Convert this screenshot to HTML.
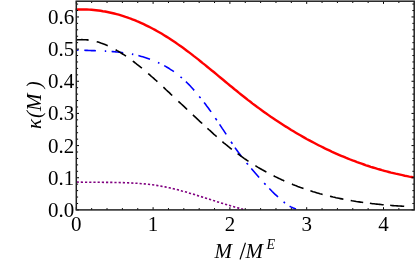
<!DOCTYPE html>
<html><head><meta charset="utf-8"><style>
html,body{margin:0;padding:0;background:#fff;}
svg{display:block;will-change:transform;}
text{font-family:"Liberation Serif",serif;font-size:21px;fill:#000}
</style></head><body>
<svg width="415" height="262" viewBox="0 0 415 262">
<rect width="415" height="262" fill="#fff"/>
<path d="M76.6,182.0 L78.7,182.1 L80.8,182.1 L82.9,182.2 L85.0,182.2 L87.1,182.2 L89.2,182.3 L91.4,182.3 L93.5,182.3 L95.6,182.3 L97.7,182.3 L99.8,182.3 L101.9,182.3 L104.0,182.4 L106.1,182.4 L108.2,182.4 L110.3,182.4 L112.4,182.4 L114.5,182.5 L116.6,182.5 L118.8,182.5 L120.9,182.6 L123.0,182.6 L125.1,182.7 L127.2,182.8 L129.3,182.9 L131.4,183.0 L133.5,183.1 L135.6,183.2 L137.7,183.3 L139.8,183.5 L141.9,183.7 L144.0,183.9 L146.2,184.1 L148.3,184.3 L150.4,184.5 L152.5,184.8 L154.6,185.1 L156.7,185.4 L158.8,185.8 L160.9,186.1 L163.0,186.5 L165.1,186.9 L167.2,187.4 L169.3,187.8 L171.4,188.3 L173.5,188.8 L175.7,189.3 L177.8,189.8 L179.9,190.4 L182.0,191.0 L184.1,191.5 L186.2,192.1 L188.3,192.7 L190.4,193.4 L192.5,194.0 L194.6,194.6 L196.7,195.3 L198.8,195.9 L200.9,196.6 L203.1,197.2 L205.2,197.9 L207.3,198.6 L209.4,199.2 L211.5,199.9 L213.6,200.6 L215.7,201.2 L217.8,201.9 L219.9,202.6 L222.0,203.2 L224.1,203.9 L226.2,204.5 L228.3,205.1 L230.5,205.8 L232.6,206.4 L234.7,207.0 L236.8,207.6 L238.9,208.1 L241.0,208.7 L243.1,209.2" fill="none" stroke="#800080" stroke-width="1.6" stroke-dasharray="2.2 2"/>
<path d="M84.3,50.3 L85.8,50.4 L87.2,50.4 L88.7,50.5 L90.1,50.5 L91.5,50.6 L93.0,50.6 L94.5,50.6 L95.9,50.7 M111.6,51.5 L113.0,51.6 L114.5,51.7 L116.0,51.9 L117.4,52.0 L118.8,52.2 L120.3,52.3 L121.8,52.5 L123.2,52.7 M138.4,55.6 L139.8,56.0 L141.3,56.4 L142.8,56.8 L144.2,57.2 L145.7,57.7 L147.1,58.2 L148.6,58.7 L150.0,59.2 M164.2,65.6 L165.6,66.4 L167.0,67.2 L168.4,68.0 L169.7,68.9 L171.1,69.8 L172.5,70.7 L173.9,71.7 M185.9,81.6 L187.3,83.0 L188.7,84.4 L190.1,85.8 L191.4,87.3 L192.8,88.8 L194.2,90.4 M204.1,102.5 L205.5,104.3 L206.9,106.2 L208.3,108.0 L209.7,110.0 L211.1,111.9 M219.6,124.4 L220.9,126.4 L222.2,128.4 L223.6,130.4 L224.9,132.4 L226.2,134.4 M235.0,147.6 L236.3,149.5 L237.6,151.3 L238.9,153.1 L240.2,154.8 L241.5,156.6 M251.3,168.5 L252.6,170.0 L253.9,171.5 L255.2,173.0 L256.5,174.5 L257.8,176.0 L259.1,177.5 M269.3,188.5 L270.8,190.0 L272.2,191.5 L273.6,192.9 L275.1,194.3 L276.6,195.7 L278.0,197.0 M289.6,206.2 L290.9,206.9 L292.2,207.5 L293.4,208.1 L294.7,208.6 L296.0,209.0 M77.1,50.1 L78.5,50.2 M104.8,51.1 L106.2,51.1 M131.9,54.1 L133.3,54.4 M158.0,62.5 L159.4,63.2 M180.5,76.8 L181.9,78.0 M199.2,96.4 L200.6,98.1 M215.4,118.1 L216.8,120.2 M231.0,141.7 L232.4,143.8 M246.6,162.9 L248.0,164.6 M264.2,183.1 L265.6,184.6 M283.6,201.9 L285.0,203.0" fill="none" stroke="#0000ff" stroke-width="1.6"/>
<path d="M76.5,40.0 L77.8,39.8 L79.2,39.7 L80.5,39.7 L81.9,39.6 L83.2,39.7 L84.6,39.7 L85.9,39.8 L87.3,39.9 L88.6,40.1 M96.7,41.7 L98.1,42.1 L99.5,42.5 L100.8,43.0 L102.2,43.5 L103.6,44.0 L105.0,44.5 L106.3,45.1 L107.7,45.7 M115.6,49.7 L117.1,50.6 L118.6,51.4 L120.1,52.3 L121.5,53.3 L123.0,54.2 L124.5,55.2 L126.0,56.2 M132.8,61.1 L134.1,62.0 L135.4,63.0 L136.7,64.1 L138.0,65.1 L139.3,66.1 L140.6,67.2 L141.9,68.2 M148.2,73.6 L149.5,74.7 L150.8,75.9 L152.1,77.0 L153.5,78.2 L154.8,79.4 L156.1,80.5 L157.4,81.7 M163.4,87.2 L164.9,88.6 L166.3,90.0 L167.8,91.3 L169.3,92.7 L170.7,94.1 L172.2,95.5 M178.4,101.3 L179.8,102.6 L181.3,104.0 L182.8,105.4 L184.2,106.7 L185.7,108.1 L187.1,109.5 M192.9,114.9 L194.2,116.1 L195.6,117.4 L196.9,118.6 L198.2,119.8 L199.5,121.1 L200.9,122.3 L202.2,123.5 M207.4,128.3 L208.7,129.5 L210.1,130.7 L211.4,131.9 L212.7,133.1 L214.0,134.3 L215.4,135.5 L216.7,136.7 M222.4,141.6 L223.7,142.8 L225.1,143.9 L226.4,145.0 L227.8,146.1 L229.1,147.2 L230.5,148.3 L231.8,149.3 M237.6,153.7 L239.0,154.7 L240.3,155.7 L241.7,156.7 L243.1,157.7 L244.4,158.6 L245.8,159.5 L247.1,160.4 L248.5,161.3 M255.4,165.7 L256.8,166.6 L258.1,167.4 L259.5,168.2 L260.9,169.0 L262.3,169.8 L263.6,170.5 L265.0,171.3 L266.4,172.1 M273.6,175.8 L274.9,176.5 L276.3,177.1 L277.6,177.8 L279.0,178.4 L280.3,179.1 L281.6,179.7 L283.0,180.3 L284.3,180.9 M291.9,184.1 L293.3,184.7 L294.8,185.3 L296.2,185.8 L297.7,186.4 L299.1,186.9 L300.6,187.5 L302.1,188.0 L303.5,188.5 M310.4,190.8 L311.8,191.2 L313.1,191.7 L314.5,192.1 L315.8,192.5 L317.2,192.9 L318.5,193.3 L319.9,193.7 L321.2,194.0 L322.6,194.4 M330.0,196.3 L331.5,196.6 L333.0,197.0 L334.5,197.3 L336.0,197.7 L337.4,198.0 L338.9,198.3 L340.4,198.6 L341.9,198.9 L343.4,199.2 M350.7,200.5 L352.1,200.8 L353.5,201.0 L354.9,201.2 L356.3,201.5 L357.6,201.7 L359.0,201.9 L360.4,202.1 L361.8,202.3 L363.2,202.5 M369.9,203.3 L371.3,203.5 L372.7,203.7 L374.0,203.8 L375.4,204.0 L376.8,204.1 L378.2,204.3 L379.6,204.4 L380.9,204.5 L382.3,204.7 L383.7,204.8 M390.2,205.3 L391.6,205.5 L393.0,205.6 L394.4,205.7 L395.8,205.8 L397.2,205.9 L398.6,206.0 L400.0,206.0 L401.4,206.1 L402.8,206.2 L404.2,206.3" fill="none" stroke="#000" stroke-width="1.6"/>
<path d="M75.6,9.6 L77.9,9.5 L80.1,9.5 L82.4,9.4 L84.7,9.5 L86.9,9.5 L89.2,9.6 L91.5,9.8 L93.8,10.0 L96.0,10.2 L98.3,10.5 L100.6,10.8 L102.8,11.2 L105.1,11.5 L107.4,12.0 L109.6,12.5 L111.9,13.0 L114.2,13.5 L116.5,14.1 L118.7,14.7 L121.0,15.4 L123.3,16.1 L125.5,16.9 L127.8,17.6 L130.1,18.5 L132.3,19.3 L134.6,20.2 L136.9,21.2 L139.2,22.1 L141.4,23.1 L143.7,24.2 L146.0,25.3 L148.2,26.4 L150.5,27.5 L152.8,28.7 L155.0,29.9 L157.3,31.2 L159.6,32.5 L161.9,33.8 L164.1,35.2 L166.4,36.6 L168.7,38.0 L170.9,39.5 L173.2,41.0 L175.5,42.5 L177.7,44.1 L180.0,45.7 L182.3,47.3 L184.6,49.0 L186.8,50.7 L189.1,52.4 L191.4,54.1 L193.6,55.9 L195.9,57.6 L198.2,59.4 L200.4,61.2 L202.7,63.1 L205.0,64.9 L207.2,66.7 L209.5,68.6 L211.8,70.5 L214.1,72.3 L216.3,74.2 L218.6,76.1 L220.9,78.0 L223.1,79.8 L225.4,81.7 L227.7,83.6 L229.9,85.5 L232.2,87.3 L234.5,89.2 L236.8,91.0 L239.0,92.9 L241.3,94.7 L243.6,96.5 L245.8,98.3 L248.1,100.1 L250.4,101.8 L252.6,103.6 L254.9,105.3 L257.2,107.0 L259.5,108.6 L261.7,110.3 L264.0,111.9 L266.3,113.5 L268.5,115.1 L270.8,116.7 L273.1,118.2 L275.3,119.8 L277.6,121.3 L279.9,122.8 L282.2,124.3 L284.4,125.7 L286.7,127.1 L289.0,128.6 L291.2,130.0 L293.5,131.3 L295.8,132.7 L298.0,134.0 L300.3,135.3 L302.6,136.6 L304.8,137.9 L307.1,139.2 L309.4,140.4 L311.7,141.6 L313.9,142.8 L316.2,144.0 L318.5,145.2 L320.7,146.3 L323.0,147.4 L325.3,148.6 L327.5,149.6 L329.8,150.7 L332.1,151.8 L334.4,152.8 L336.6,153.8 L338.9,154.8 L341.2,155.8 L343.4,156.7 L345.7,157.7 L348.0,158.6 L350.2,159.5 L352.5,160.4 L354.8,161.2 L357.1,162.1 L359.3,162.9 L361.6,163.7 L363.9,164.5 L366.1,165.3 L368.4,166.0 L370.7,166.8 L372.9,167.5 L375.2,168.2 L377.5,168.9 L379.8,169.5 L382.0,170.2 L384.3,170.8 L386.6,171.4 L388.8,172.0 L391.1,172.6 L393.4,173.1 L395.6,173.7 L397.9,174.2 L400.2,174.7 L402.5,175.2 L404.7,175.7 L407.0,176.1 L409.3,176.6 L411.5,177.0 L413.8,177.4" fill="none" stroke="#ff0000" stroke-width="2.4"/>
<path d="M76.30,209.9 v-2.7 M76.30,1.2 v2.7 M91.66,209.9 v-1.8 M91.66,1.2 v1.8 M107.02,209.9 v-1.8 M107.02,1.2 v1.8 M122.38,209.9 v-1.8 M122.38,1.2 v1.8 M137.74,209.9 v-1.8 M137.74,1.2 v1.8 M153.10,209.9 v-2.7 M153.10,1.2 v2.7 M168.46,209.9 v-1.8 M168.46,1.2 v1.8 M183.82,209.9 v-1.8 M183.82,1.2 v1.8 M199.18,209.9 v-1.8 M199.18,1.2 v1.8 M214.54,209.9 v-1.8 M214.54,1.2 v1.8 M229.90,209.9 v-2.7 M229.90,1.2 v2.7 M245.26,209.9 v-1.8 M245.26,1.2 v1.8 M260.62,209.9 v-1.8 M260.62,1.2 v1.8 M275.98,209.9 v-1.8 M275.98,1.2 v1.8 M291.34,209.9 v-1.8 M291.34,1.2 v1.8 M306.70,209.9 v-2.7 M306.70,1.2 v2.7 M322.06,209.9 v-1.8 M322.06,1.2 v1.8 M337.42,209.9 v-1.8 M337.42,1.2 v1.8 M352.78,209.9 v-1.8 M352.78,1.2 v1.8 M368.14,209.9 v-1.8 M368.14,1.2 v1.8 M383.50,209.9 v-2.7 M383.50,1.2 v2.7 M398.86,209.9 v-1.8 M398.86,1.2 v1.8 M76.3,209.90 h2.7 M414.2,209.90 h-2.7 M76.3,203.47 h1.8 M414.2,203.47 h-1.8 M76.3,197.04 h1.8 M414.2,197.04 h-1.8 M76.3,190.60 h1.8 M414.2,190.60 h-1.8 M76.3,184.17 h1.8 M414.2,184.17 h-1.8 M76.3,177.74 h2.7 M414.2,177.74 h-2.7 M76.3,171.31 h1.8 M414.2,171.31 h-1.8 M76.3,164.88 h1.8 M414.2,164.88 h-1.8 M76.3,158.44 h1.8 M414.2,158.44 h-1.8 M76.3,152.01 h1.8 M414.2,152.01 h-1.8 M76.3,145.58 h2.7 M414.2,145.58 h-2.7 M76.3,139.15 h1.8 M414.2,139.15 h-1.8 M76.3,132.72 h1.8 M414.2,132.72 h-1.8 M76.3,126.28 h1.8 M414.2,126.28 h-1.8 M76.3,119.85 h1.8 M414.2,119.85 h-1.8 M76.3,113.42 h2.7 M414.2,113.42 h-2.7 M76.3,106.99 h1.8 M414.2,106.99 h-1.8 M76.3,100.56 h1.8 M414.2,100.56 h-1.8 M76.3,94.12 h1.8 M414.2,94.12 h-1.8 M76.3,87.69 h1.8 M414.2,87.69 h-1.8 M76.3,81.26 h2.7 M414.2,81.26 h-2.7 M76.3,74.83 h1.8 M414.2,74.83 h-1.8 M76.3,68.40 h1.8 M414.2,68.40 h-1.8 M76.3,61.96 h1.8 M414.2,61.96 h-1.8 M76.3,55.53 h1.8 M414.2,55.53 h-1.8 M76.3,49.10 h2.7 M414.2,49.10 h-2.7 M76.3,42.67 h1.8 M414.2,42.67 h-1.8 M76.3,36.24 h1.8 M414.2,36.24 h-1.8 M76.3,29.80 h1.8 M414.2,29.80 h-1.8 M76.3,23.37 h1.8 M414.2,23.37 h-1.8 M76.3,16.94 h2.7 M414.2,16.94 h-2.7 M76.3,10.51 h1.8 M414.2,10.51 h-1.8 M76.3,4.08 h1.8 M414.2,4.08 h-1.8" fill="none" stroke="#000" stroke-width="1"/>
<rect x="76.3" y="1.2" width="337.9" height="208.70000000000002" fill="none" stroke="#222" stroke-width="1.5"/>
<text x="74.3" y="216.9" text-anchor="end">0.0</text><text x="74.3" y="184.7" text-anchor="end">0.1</text><text x="74.3" y="152.6" text-anchor="end">0.2</text><text x="74.3" y="120.4" text-anchor="end">0.3</text><text x="74.3" y="88.3" text-anchor="end">0.4</text><text x="74.3" y="56.1" text-anchor="end">0.5</text><text x="74.3" y="23.9" text-anchor="end">0.6</text>
<text x="76.3" y="231" text-anchor="middle">0</text><text x="153.1" y="231" text-anchor="middle">1</text><text x="229.9" y="231" text-anchor="middle">2</text><text x="306.7" y="231" text-anchor="middle">3</text><text x="383.5" y="231" text-anchor="middle">4</text>
<text x="214.5" y="257.5" font-style="italic">M</text>
<path d="M240.0,259.5 L245.5,242.7" stroke="#000" stroke-width="1.15" fill="none"/>
<text x="245.4" y="257.5" font-style="italic">M</text>
<text x="266.4" y="248.7" font-style="italic" style="font-size:14px">E</text>
<g transform="translate(40.5,128) rotate(-90)"><text x="-1" y="0" font-style="italic">κ</text><text x="10.1" y="0" font-style="italic">(M )</text></g>
</svg></body></html>
